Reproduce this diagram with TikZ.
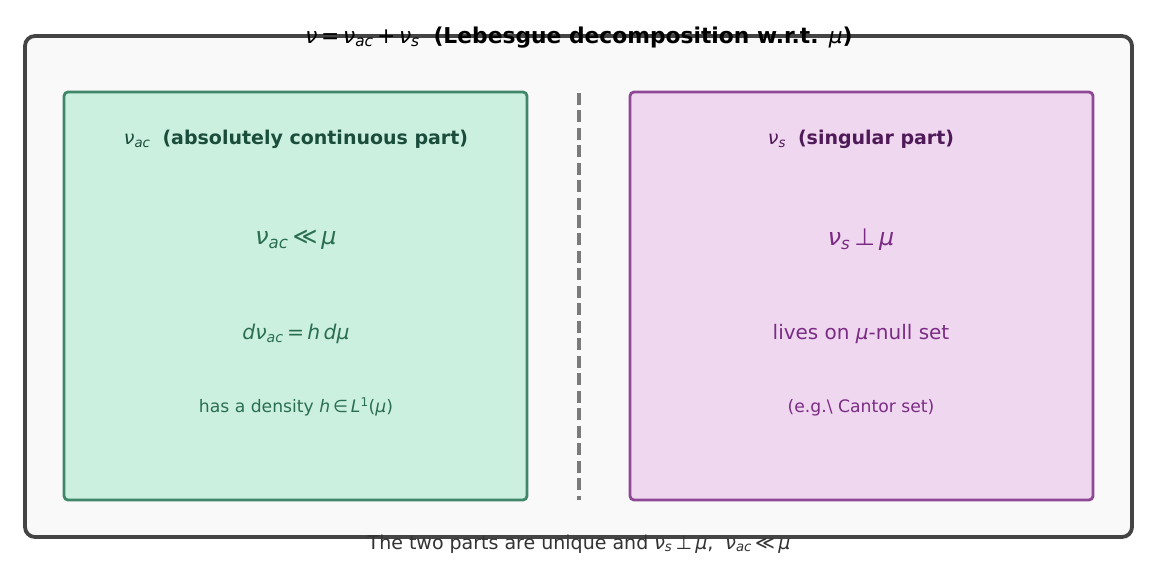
\documentclass[tikz,border=0pt]{standalone}
\usepackage{fontspec}
\setmainfont{DejaVu Sans}
\definecolor{outerline}{HTML}{444444}
\definecolor{outerfill}{HTML}{F9F9F9}
\definecolor{acfill}{HTML}{CCF0E0}
\definecolor{acline}{HTML}{3F8768}
\definecolor{achead}{HTML}{1B4D3C}
\definecolor{actext}{HTML}{2A6E50}
\definecolor{sfill}{HTML}{F0D7F0}
\definecolor{sline}{HTML}{8E4896}
\definecolor{shead}{HTML}{4F1A58}
\definecolor{stext}{HTML}{7A2C84}
\definecolor{divider}{HTML}{7A7A7A}
\definecolor{captext}{HTML}{333333}
% math-like pieces set in DejaVu Sans
\newcommand{\mv}[1]{{\itshape #1}}
\newcommand{\sbs}[1]{\textsubscript{\itshape #1}}
\newcommand{\spx}[1]{\textsuperscript{#1}}
\begin{document}
\begin{tikzpicture}[x=1pt,y=-1pt,
  panel/.style={draw, rounded corners=4pt, line width=2.8pt},
  label/.style={anchor=center, inner sep=0pt}]
\useasboundingbox (0,0) rectangle (1156,572);
% outer frame
\node[draw=outerline, fill=outerfill, line width=3.8pt, rounded corners=10pt,
  minimum width=1107pt, minimum height=501pt, inner sep=0pt] (frame) at (578.5,286.5) {};
% the two parts
\node[panel, draw=acline, fill=acfill, minimum width=463pt, minimum height=408pt, inner sep=0pt] (acbox) at (295.5,296) {};
\node[panel, draw=sline, fill=sfill, minimum width=463pt, minimum height=408pt, inner sep=0pt] (sbox) at (861.5,296) {};
% divider
\coordinate (divtop) at (579,93);
\coordinate (divbot) at (579,500);
\draw[divider, line width=3.2pt, dash pattern=on 12pt off 5.5pt] (divtop) -- (divbot);
% title
\node[label, font=\fontsize{21.8}{25}\selectfont, text=black] (title) at (579,37.5)
  {\mv{ν}\,=\,\mv{ν}\sbs{ac}\,+\,\mv{ν}\sbs{s}\ \ \textbf{(Lebesgue decomposition w.r.t. \mv{\mdseries μ})}};
% absolutely continuous part
\node[label, font=\fontsize{19}{22}\selectfont, text=achead] (achd) at (296,139.5)
  {\mv{ν}\sbs{ac}\ \ \textbf{(absolutely continuous part)}};
\node[label, font=\fontsize{23.8}{28}\selectfont, text=actext] (acrel) at (296,240)
  {\mv{ν}\sbs{ac}\,≪\,\mv{μ}};
\node[label, font=\fontsize{20.3}{24}\selectfont, text=actext] (acdens) at (296,333.5)
  {\mv{dν}\sbs{ac}\,=\,\mv{h}\,\mv{dμ}};
\node[label, font=\fontsize{17.2}{20}\selectfont, text=actext] (acnote) at (296,407)
  {has a density \mv{h}\,∈\,\mv{L}\spx{1}(\mv{μ})};
% singular part
\node[label, font=\fontsize{19}{22}\selectfont, text=shead] (shd) at (861,139.5)
  {\mv{ν}\sbs{s}\ \ \textbf{(singular part)}};
\node[label, font=\fontsize{23.8}{28}\selectfont, text=stext] (srel) at (861,240)
  {\mv{ν}\sbs{s}\,⊥\,\mv{μ}};
\node[label, font=\fontsize{20}{24}\selectfont, text=stext] (snull) at (861,333.5)
  {lives on \mv{μ}-null set};
\node[label, font=\fontsize{17.2}{20}\selectfont, text=stext] (snote) at (861,407.5)
  {(e.g.\textbackslash\ Cantor set)};
% caption
\node[label, font=\fontsize{19}{22}\selectfont, text=captext] (caption) at (579,544)
  {The two parts are unique and \mv{ν}\sbs{s}\,⊥\,\mv{μ},\ \ \mv{ν}\sbs{ac}\,≪\,\mv{μ}};
\end{tikzpicture}
\end{document}
